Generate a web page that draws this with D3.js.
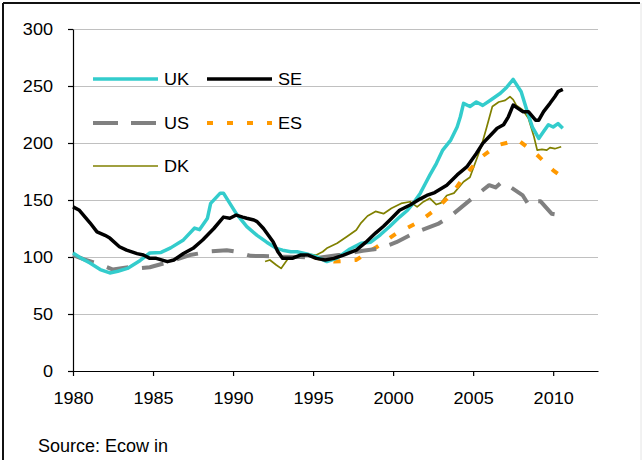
<!DOCTYPE html>
<html>
<head>
<meta charset="utf-8">
<script src="https://cdn.jsdelivr.net/npm/d3@7"></script>
<style>
  html, body { margin: 0; padding: 0; background: #fff; }
  svg { display: block; }
  text { font-family: "Liberation Sans", Arial, sans-serif; fill: #000; }
</style>
</head>
<body>
<svg id="chart" width="642" height="460"></svg>
<script>
// House price indices (1995 = 100), [year, index]
const UK = [
  [1980.0,103.5],[1980.5,99],[1981.06,94.7],[1981.7,89],[1982.3,86],[1982.8,87.5],[1983.4,90],
  [1984.2,97],[1984.8,103.5],[1985.5,104],[1986.1,108],[1986.9,115],[1987.6,125.4],[1987.9,124],
  [1988.4,134],[1988.6,147],[1989.2,156],[1989.4,156],[1989.8,147],[1990.2,138],[1990.86,126.6],
  [1991.5,119],[1992.1,113],[1992.7,107.6],[1993.1,106],[1993.6,104.6],[1994.0,104.6],[1994.6,102.6],
  [1995.2,100.3],[1995.86,96],[1996.5,99],[1997.3,107],[1998.0,112],[1998.6,113],[1999.2,119.5],
  [1999.8,127],[2000.4,135],[2000.9,141],[2001.3,148],[2001.7,156],[2002.0,164],[2002.3,172],
  [2002.7,182],[2003.1,193.8],[2003.6,202.6],[2004.0,214],[2004.2,223],[2004.4,234.8],[2004.8,232],
  [2005.2,236],[2005.6,233],[2006.1,237.7],[2006.7,243.6],[2007.1,249],[2007.5,255.8],[2008.0,245],
  [2008.35,229],[2008.7,214],[2009.1,204],[2009.4,210],[2009.7,216],[2010.0,214],[2010.3,217],[2010.6,213]
];
const SE = [
  [1980.0,144],[1980.4,141],[1981.06,130],[1981.5,122],[1982.0,119],[1982.3,116.6],[1982.9,109],
  [1983.35,106],[1984.0,103],[1984.4,101.7],[1984.8,98.8],[1985.2,98.8],[1985.9,95.9],[1986.3,97.4],
  [1986.9,103],[1987.5,107.6],[1988.1,114.9],[1988.8,125],[1989.4,135],[1989.8,134],[1990.2,136.8],
  [1990.6,135],[1990.85,134],[1991.3,132.5],[1991.5,131],[1991.9,125],[1992.5,113.4],[1992.8,104.6],
  [1993.1,98.8],[1993.7,98.8],[1994.2,101.7],[1994.7,101.7],[1995.2,98.8],[1995.75,97.4],[1996.3,98.8],
  [1996.9,101.7],[1997.7,106],[1998.3,113],[1998.9,121],[1999.4,127],[1999.8,132.5],[2000.4,141],
  [2001.06,145.6],[2001.7,151],[2002.1,154],[2002.6,156.5],[2003.35,163],[2004.0,172],[2004.6,179],
  [2005.2,190.8],[2005.6,199.7],[2006.1,207],[2006.5,213],[2006.9,216],[2007.2,223],[2007.5,233.3],
  [2007.8,230.4],[2008.1,227.5],[2008.45,227.5],[2008.9,220],[2009.1,220],[2009.4,227.5],[2009.8,234.8],
  [2010.1,240.6],[2010.3,245],[2010.6,247]
];
const US = [
  [1980.0,101.7],[1980.7,98],[1981.5,94.4],[1982.5,89],[1983.6,91.4],[1983.9,90],[1984.8,91],
  [1986.1,96],[1987.3,101.7],[1988.6,105],[1989.6,106],[1990.2,104.6],[1991.1,101],[1991.9,100.9],
  [1993.1,100.3],[1994.2,100],[1995.2,99],[1996.7,102],[1998.1,105.5],[1999.2,107.5],[2000.2,113],
  [2001.3,121],[2002.8,129],[2003.6,136],[2004.9,151],[2006.0,163],[2006.4,161],[2006.8,166],
  [2007.3,161.6],[2008.1,154],[2008.5,145],[2008.9,149],[2009.2,149],[2009.9,138],[2010.4,136.8]
];
const ES = [
  [1995.0,100],[1995.5,98.5],[1996.3,96],[1997.0,96.5],[1997.7,97.4],[1998.4,104],[1999.0,109],
  [2000.2,120.7],[2001.5,130],[2002.6,141],[2003.7,155.8],[2004.4,170],[2005.4,186.5],[2006.5,198],
  [2007.8,202.6],[2008.9,190.8],[2010.0,176],[2010.3,173]
];
const DK = [
  [1992.0,96],[1992.3,97.4],[1992.7,93],[1993.0,90],[1993.45,98.8],[1994.0,100.9],[1994.6,102.6],
  [1995.2,101.7],[1995.6,104.6],[1995.85,107.6],[1996.5,112],[1997.1,117.8],[1997.7,123.7],[1998.0,130],
  [1998.4,136],[1998.9,140],[1999.4,138],[1999.9,142.7],[2000.5,147],[2001.06,148.5],[2001.5,144],
  [2001.9,148.5],[2002.3,151.5],[2002.7,146],[2003.0,147.5],[2003.35,154],[2003.8,156],[2004.4,166],
  [2004.8,170],[2005.0,177.7],[2005.5,196.7],[2005.85,214],[2006.2,232],[2006.6,236],[2007.0,237.4],
  [2007.3,240.6],[2007.5,238],[2007.7,233],[2008.1,229],[2008.45,221.6],[2008.8,205.5],[2009.0,193.8],
  [2009.3,194.4],[2009.6,193.8],[2009.8,196],[2010.1,195],[2010.5,196.7]
];

const yTicks = [0, 50, 100, 150, 200, 250, 300];
const xTicks = [1980, 1985, 1990, 1995, 2000, 2005, 2010];
const sourceNote = "Source: Ecow in";

const series = [
  { name: "UK", data: UK, color: "#33CCCC", width: 3.5, dash: null, key: null },
  { name: "SE", data: SE, color: "#000000", width: 3.5, dash: null, key: null },
  { name: "US", data: US, color: "#808080", width: 4, dash: "22,14", key: "25,13" },
  { name: "ES", data: ES, color: "#FF9900", width: 4, dash: "7,14", key: "6,14" },
  { name: "DK", data: DK, color: "#808000", width: 1.7, dash: null, key: null }
];

const svg = d3.select("#chart");
const plotLeft = 73, plotRight = 598, plotTop = 29, plotBottom = 371;
const stretch = "scale(1.13,1)";

const x = d3.scaleLinear().domain([1980, 2012.8]).range([plotLeft, plotRight]);
const y = d3.scaleLinear().domain([0, 300]).range([plotBottom, plotTop]);

// frame
svg.append("line").attr("x1", 3).attr("x2", 640).attr("y1", 3).attr("y2", 3)
  .attr("stroke", "#111").attr("stroke-width", 2);
svg.append("line").attr("x1", 3).attr("x2", 3).attr("y1", 3).attr("y2", 460)
  .attr("stroke", "#111").attr("stroke-width", 2);
svg.append("line").attr("x1", 641).attr("x2", 641).attr("y1", 3).attr("y2", 460)
  .attr("stroke", "#e4e4e4").attr("stroke-width", 1);

// gridlines
svg.append("g").selectAll("line").data(yTicks.filter(d => d > 0)).join("line")
  .attr("x1", plotLeft).attr("x2", plotRight)
  .attr("y1", d => Math.round(y(d)) + 0.5).attr("y2", d => Math.round(y(d)) + 0.5)
  .attr("stroke", "#c0c0c0").attr("stroke-width", 1);

// axes
const yAxis = svg.append("g").attr("transform", `translate(${plotLeft},0)`)
  .call(d3.axisLeft(y).tickValues(yTicks).tickSize(5).tickPadding(12.7).tickSizeOuter(0));
const xAxis = svg.append("g").attr("transform", `translate(0,${plotBottom})`)
  .call(d3.axisBottom(x).tickValues(xTicks).tickFormat(d3.format("d"))
    .tickSize(5).tickPadding(16.5).tickSizeOuter(0));

[yAxis, xAxis].forEach(g => {
  g.select(".domain").attr("stroke", "#000").attr("stroke-width", 1.2);
  g.selectAll(".tick line").attr("stroke", "#000").attr("stroke-width", 1.2);
  g.selectAll(".tick text").attr("font-size", 16).attr("fill", "#000")
    .attr("transform", stretch)
    .style("font-family", '"Liberation Sans", Arial, sans-serif');
});

// series lines
const line = d3.line().x(d => x(d[0])).y(d => y(d[1]));
const drawOrder = [series[4], series[3], series[2], series[0], series[1]];
svg.append("g").selectAll("path").data(drawOrder).join("path")
  .attr("d", s => line(s.data))
  .attr("fill", "none")
  .attr("stroke", s => s.color)
  .attr("stroke-width", s => s.width)
  .attr("stroke-dasharray", s => s.dash)
  .attr("stroke-linejoin", "round");

// legend
const legendItems = [
  { s: series[0], lx: 93, ly: 79 },
  { s: series[1], lx: 207, ly: 79 },
  { s: series[2], lx: 93, ly: 123 },
  { s: series[3], lx: 207, ly: 123 },
  { s: series[4], lx: 93, ly: 166 }
];
const lg = svg.append("g").selectAll("g").data(legendItems).join("g")
  .attr("transform", d => `translate(${d.lx},${d.ly})`);
lg.append("line").attr("x1", 0).attr("x2", 65).attr("y1", 0).attr("y2", 0)
  .attr("stroke", d => d.s.color).attr("stroke-width", d => d.s.width)
  .attr("stroke-dasharray", d => d.s.key);
lg.append("text").attr("x", 71 / 1.13).attr("dy", "0.36em")
  .attr("transform", stretch).attr("font-size", 16).text(d => d.s.name);

// source note
svg.append("text").attr("x", 38).attr("y", 452).attr("font-size", 18).text(sourceNote);
</script>
</body>
</html>
